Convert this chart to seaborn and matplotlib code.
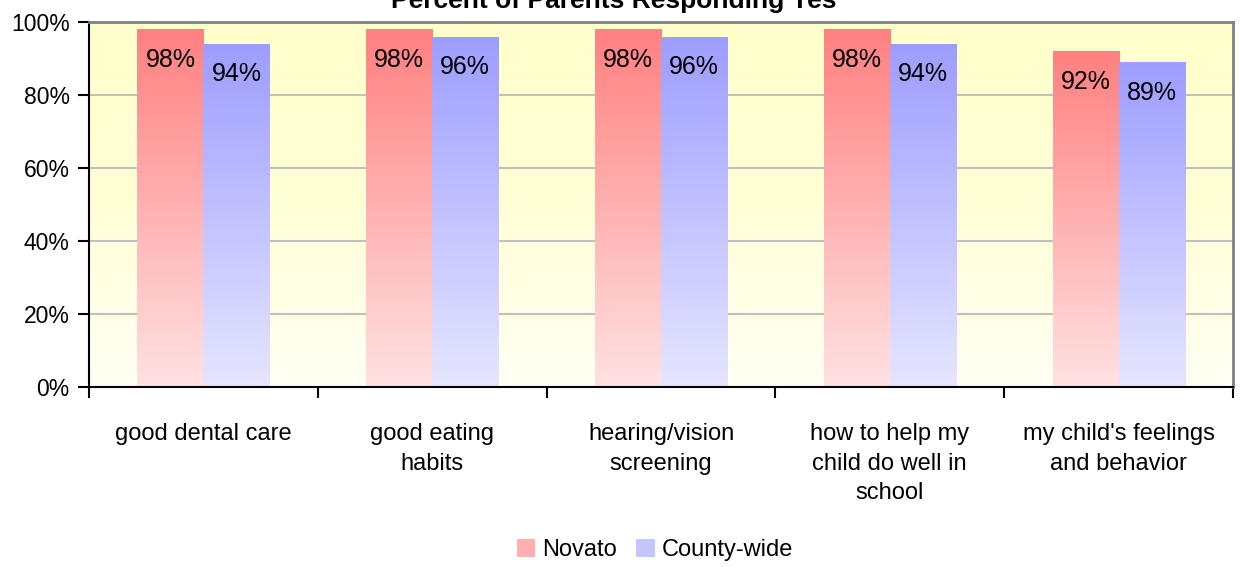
import numpy as np
import pandas as pd
import seaborn as sns
import matplotlib.pyplot as plt
from matplotlib.colors import LinearSegmentedColormap
from matplotlib.patches import Patch
from matplotlib.ticker import FixedLocator, PercentFormatter


topics = [
    'good dental care',
    'good eating\nhabits',
    'hearing/vision\nscreening',
    'how to help my\nchild do well in\nschool',
    "my child's feelings\nand behavior",
]
groups = ['Novato', 'County-wide']
novato = [98, 98, 98, 98, 92]
county = [94, 96, 96, 94, 89]
title = 'Percent of Parents Responding Yes'

top_colors = {'Novato': '#FF8080', 'County-wide': '#9D9DFF'}
bottom_colors = {'Novato': '#FFE2E2', 'County-wide': '#E6E6FF'}


def main() -> None:

    plt.rcParams['font.family'] = ['Liberation Sans', 'DejaVu Sans']

    df = pd.DataFrame({
        'topic': topics * 2,
        'pct': novato + county,
        'group': [groups[0]] * len(topics) + [groups[1]] * len(topics),
    })

    fig = plt.figure(figsize=(12.43, 5.67), dpi=100)
    ax = fig.add_axes([89 / 1243, 1 - 387 / 567, (1233 - 89) / 1243, (387 - 22) / 567])

    sns.barplot(
        data = df,
        x = 'topic',
        y = 'pct',
        hue = 'group',
        hue_order = groups,
        palette = top_colors,
        width = 0.577,
        saturation = 1,
        legend = False,
        ax = ax,
    )

    # yellow background of the plot area, fading downwards
    bg = LinearSegmentedColormap.from_list('bg', ['#FFFFF4', '#FFFFD6', '#FFFFCC'])
    ramp = np.linspace(0, 1, 256).reshape(-1, 1)
    ax.imshow(ramp, extent=[0, 1, 0, 1], transform=ax.transAxes, cmap=bg,
              origin='lower', aspect='auto', zorder=0)

    # vertical gradients on each bar
    for group, cont in zip(groups, ax.containers):
        cmap = LinearSegmentedColormap.from_list(group, [bottom_colors[group], top_colors[group]])
        for bar in cont:
            x0, y0 = bar.get_x(), bar.get_y()
            w, h = bar.get_width(), bar.get_height()
            bar.set_facecolor('none')
            bar.set_edgecolor('none')
            im = ax.imshow(ramp, extent=[x0, x0 + w, y0, y0 + h], cmap=cmap,
                           origin='lower', aspect='auto', zorder=1.5)
            im.set_clip_path(bar)
            ax.annotate(f'{h:.0f}%', (x0 + w / 2, y0 + h), xytext=(0, -22),
                        textcoords='offset points', ha='center', va='center',
                        fontsize=18, zorder=3)

    ax.set_xlim(-0.5, len(topics) - 0.5)
    ax.set_ylim(0, 100)
    ax.set_xlabel('')
    ax.set_ylabel('')

    ax.yaxis.set_major_locator(FixedLocator([0, 20, 40, 60, 80, 100]))
    ax.yaxis.set_major_formatter(PercentFormatter(decimals=0))
    ax.grid(axis='y', color='#C0C0C0', linewidth=1.5, zorder=0.5)
    ax.set_axisbelow(True)

    ax.xaxis.set_minor_locator(FixedLocator(np.arange(len(topics) + 1) - 0.5))
    ax.tick_params(axis='x', which='major', length=0, pad=26, labelsize=17)
    ax.tick_params(axis='x', which='minor', length=8, width=1.5, color='black')
    ax.tick_params(axis='y', length=8, width=1.5, labelsize=16.5, pad=6)
    for lab in ax.get_xticklabels():
        lab.set_linespacing(1.45)
        lab.set_verticalalignment('top')

    for side in ['left', 'bottom']:
        ax.spines[side].set_color('black')
        ax.spines[side].set_linewidth(1.5)
    for side in ['top', 'right']:
        ax.spines[side].set_color('#808080')
        ax.spines[side].set_linewidth(2)

    fig.text(614 / 1243, 1 - 8 / 567, title, ha='center', va='baseline',
             fontsize=19, fontweight='bold')

    handles = [Patch(facecolor='#FFAFAF', label=groups[0]),
               Patch(facecolor='#C4C4FF', label=groups[1])]
    fig.legend(handles=handles, loc='center', bbox_to_anchor=(655 / 1243, 1 - 550 / 567),
               ncol=2, frameon=False, fontsize=17, handlelength=0.8, handleheight=0.8,
               handletextpad=0.3, columnspacing=0.8)

    fig.savefig('out.png', dpi=100)


if __name__ == '__main__':
    main()
